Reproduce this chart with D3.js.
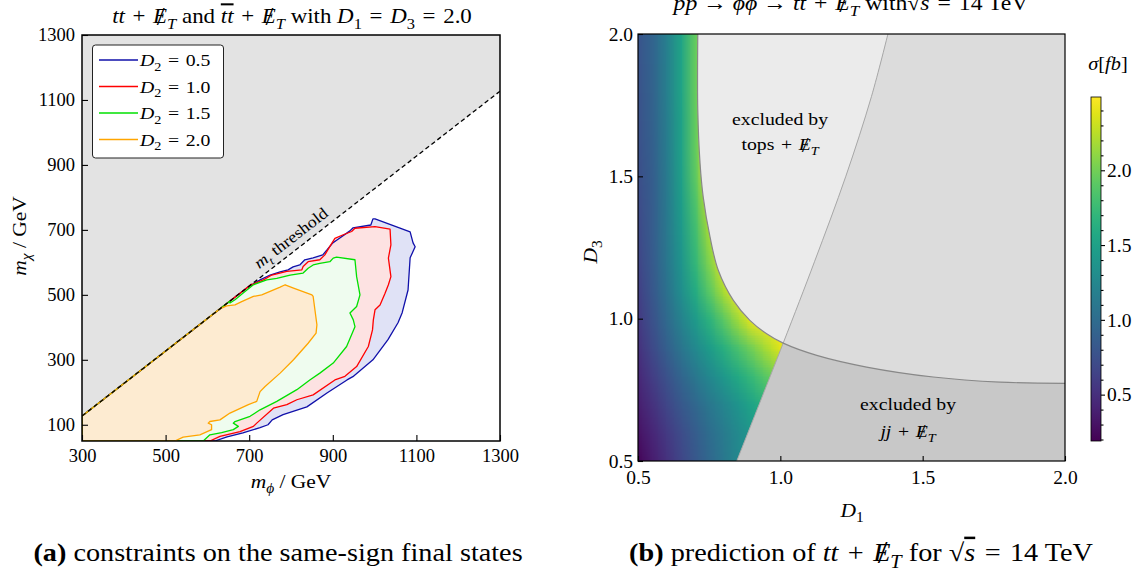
<!DOCTYPE html>
<html><head><meta charset="utf-8">
<script src="https://cdn.jsdelivr.net/npm/d3@7"></script>
<style>
body{margin:0;background:#fff;}
svg{display:block;font-family:"Liberation Serif","DejaVu Serif",serif;}
</style></head><body>
<svg id="fig" width="1135" height="578"></svg>
<script>
// ---------------- panel (a): same-sign constraints ----------------
const massTicksX = [300, 500, 700, 900, 1100, 1300];
const massTicksY = [100, 300, 500, 700, 900, 1100, 1300];
const topMass = 173;                       // kinematic threshold m_chi = m_phi - m_t
const d2Labels = ["0.5", "1.0", "1.5", "2.0"];
const d2Lines = ["#1010aa", "#ff0000", "#00e000", "#ffa500"];
const d2Fills = ["#e0e2f6", "#fde2e2", "#effcef", "#fdebd1"];

// exclusion contours (m_phi, m_chi) in GeV, from the lower edge round to the threshold
const contourD2_05 = [[618,50],[647,63],[685,75],[726,91],[745,100],[755,115],[781,131],[838,155],[886,198],[934,238],[948,248],[996,300],[1032,362],[1056,414],[1066,445],[1080,515],[1085,614],[1097,648],[1092,660],[1085,694],[1001,734],[996,734],[991,715],[948,706],[941,697],[910,669],[900,660],[886,638],[876,623],[853,614],[833,608],[821,592],[805,586],[793,577],[774,571],[750,561],[726,546],[702,528]];
const contourD2_10 = [[606,50],[630,64],[678,79],[710,95],[718,105],[758,151],[790,162],[814,177],[853,192],[905,238],[929,249],[957,279],[985,341],[995,392],[997,423],[1001,454],[1013,469],[1025,505],[1033,531],[1039,556],[1033,613],[1039,654],[1037,702],[1001,710],[953,705],[945,695],[925,685],[905,674],[893,649],[881,623],[869,608],[841,602],[829,587],[826,577],[790,572],[754,561],[734,546],[706,531]];
const contourD2_15 = [[590,50],[606,69],[634,76],[662,85],[674,95],[662,105],[666,110],[702,126],[726,146],[766,172],[814,208],[845,238],[869,259],[901,290],[933,341],[953,402],[949,423],[941,444],[957,464],[965,500],[957,556],[953,608],[909,616],[901,613],[893,602],[869,597],[853,592],[841,582],[829,567],[798,561],[766,551],[742,546],[710,531],[690,510],[666,485],[654,475]];
const contourD2_20 = [[522,50],[542,62],[582,69],[610,85],[610,100],[602,105],[606,110],[630,115],[654,136],[698,162],[718,172],[726,202],[738,218],[774,259],[806,300],[841,351],[860,382],[862,408],[853,495],[850,500],[806,521],[786,531],[774,524],[730,500],[710,495],[682,479],[666,469],[646,466],[634,459]];
const d2Contours = [contourD2_05, contourD2_10, contourD2_15, contourD2_20];

// ---------------- panel (b): tt + MET prediction ----------------
const couplingTicks = [0.5, 1.0, 1.5, 2.0];
const gridD1 = [0.5,0.55,0.6,0.65,0.7,0.75,0.8,0.85,0.9,0.95,1.0,1.05,1.1];
const gridD3 = [0.5,0.6,0.7,0.8,0.9,1.0,1.1,1.2,1.3,1.4,1.5,1.6,1.7,1.8,1.9,2.0];
// sigma [fb]; one row per D3 value (ascending), one column per D1 value
const sigmaGrid = [
  [0.22,0.37,0.52,0.67,0.81,0.96,1.11,1.26,1.41,1.56,1.70,1.85,2.00],
  [0.30,0.44,0.58,0.72,0.86,1.00,1.14,1.28,1.42,1.56,1.70,1.84,1.98],
  [0.38,0.52,0.67,0.81,0.95,1.10,1.24,1.38,1.53,1.67,1.81,1.96,2.10],
  [0.45,0.61,0.77,0.93,1.10,1.26,1.42,1.58,1.74,1.90,2.06,2.22,2.39],
  [0.52,0.71,0.89,1.08,1.27,1.45,1.64,1.83,2.01,2.20,2.39,2.48,2.48],
  [0.58,0.77,0.98,1.20,1.43,1.67,1.91,2.16,2.41,2.48,2.48,2.48,2.48],
  [0.63,0.81,1.05,1.32,1.60,1.90,2.20,2.48,2.48,2.48,2.48,2.48,2.48],
  [0.67,0.84,1.09,1.38,1.71,2.05,2.42,2.48,2.48,2.48,2.48,2.48,2.48],
  [0.70,0.86,1.11,1.42,1.78,2.17,2.48,2.48,2.48,2.48,2.48,2.48,2.48],
  [0.72,0.86,1.12,1.45,1.84,2.29,2.48,2.48,2.48,2.48,2.48,2.48,2.48],
  [0.74,0.87,1.13,1.48,1.91,2.41,2.48,2.48,2.48,2.48,2.48,2.48,2.48],
  [0.76,0.89,1.15,1.50,1.94,2.44,2.48,2.48,2.48,2.48,2.48,2.48,2.48],
  [0.77,0.90,1.16,1.51,1.94,2.45,2.48,2.48,2.48,2.48,2.48,2.48,2.48],
  [0.78,0.91,1.17,1.52,1.95,2.46,2.48,2.48,2.48,2.48,2.48,2.48,2.48],
  [0.79,0.92,1.17,1.52,1.95,2.44,2.48,2.48,2.48,2.48,2.48,2.48,2.48],
  [0.80,0.92,1.18,1.52,1.94,2.43,2.48,2.48,2.48,2.48,2.48,2.48,2.48]
];
const sigmaRange = [0.19, 2.49];
const sigmaTicks = [0.5, 1.0, 1.5, 2.0];
// exclusion boundaries in the (D1, D3) plane
const topsBoundary = [[0.71,2.0],[0.71,1.733],[0.718,1.545],[0.729,1.428],[0.753,1.287],[0.782,1.17],[0.835,1.064],[0.893,0.994],[0.952,0.947],[1.01,0.914],[1.128,0.871],[1.303,0.83],[1.537,0.795],[1.772,0.777],[2.0,0.773]];
const jjBoundary = [[0.847,0.5],[1.01,0.914],[1.12,1.2],[1.23,1.5],[1.32,1.78],[1.378,2.0]];

// ---------------- helpers ----------------
const svg = d3.select("#fig");
const EQ = "\u2004=\u2004", PLUS = "\u2004+\u2004";

// text made of styled runs: i = italic, b = bold, sub = subscript, ol = overline, slash = struck through previous glyph
function rich(parent, x, y, parts, size, anchor = "start", stretch = 1.13) {
  const g = parent.append("g").attr("transform", `translate(${x},${y}) scale(${stretch},1)`);
  const t = g.append("text").attr("x", 0).attr("y", 0)
    .attr("font-size", size).attr("text-anchor", anchor).attr("fill", "#000");
  let shift = 0, pendingDx = 0;
  for (const [s, flags = ""] of parts) {
    const f = flags.split(" ");
    const sp = t.append("tspan").text(s);
    const target = f.includes("sub") ? 0.28 * size : (f.includes("slash") ? 0.09 * size : 0);
    const dy = target - shift; shift = target;
    if (dy) sp.attr("dy", dy);
    let dx = pendingDx; pendingDx = 0;
    if (f.includes("slash")) { dx += -0.45 * size; pendingDx = 0.1 * size; sp.attr("font-size", size * 1.25).attr("font-weight", 300); }
    if (dx) sp.attr("dx", dx);
    if (f.includes("sub")) sp.attr("font-size", size * 0.72);
    if (f.includes("i")) sp.attr("font-style", "italic");
    if (f.includes("b")) sp.attr("font-weight", "bold");
    if (f.includes("ol")) sp.attr("text-decoration", "overline");
  }
  return t;
}
const MET = [["E", "i"], ["/", "slash"], ["T", "i sub"]];

function styleAxis(size) {
  return g => {
    g.attr("font-family", null).attr("font-size", null);
    g.select(".domain").remove();
    g.selectAll(".tick line").attr("stroke", "#000").attr("stroke-width", 1.1);
    g.selectAll(".tick text").attr("font-size", size).attr("fill", "#000");
  };
}

// ================= panel (a) =================
const A = {x0: 82, x1: 500, y0: 35, y1: 441};
const xa = d3.scaleLinear().domain([300, 1300]).range([A.x0, A.x1]);
const ya = d3.scaleLinear().domain([50, 1300]).range([A.y1, A.y0]);
const thr = m => m - topMass;
const ga = svg.append("g");
const defs = svg.append("defs");
defs.append("clipPath").attr("id", "clipA").append("rect")
  .attr("x", A.x0).attr("y", A.y0).attr("width", A.x1 - A.x0).attr("height", A.y1 - A.y0);
const plotA = ga.append("g").attr("clip-path", "url(#clipA)");
const lineA = d3.line().x(d => xa(d[0])).y(d => ya(d[1]));

// kinematically forbidden region above the threshold
plotA.append("path")
  .attr("d", lineA([[300, thr(300)], [1300, thr(1300)], [1300, 1300], [300, 1300]]) + "Z")
  .attr("fill", "#e3e3e3");

function closeRegion(pts) {
  const last = pts[pts.length - 1];
  return [...pts, [last[0], thr(last[0])], [300, thr(300)], [300, 50]];
}
d2Contours.forEach((c, i) => {
  plotA.append("path").attr("d", lineA(closeRegion(c)) + "Z").attr("fill", d2Fills[i]);
});
d2Contours.forEach((c, i) => {
  plotA.append("path").attr("d", lineA(closeRegion(c)) + "Z").attr("fill", "none")
    .attr("stroke", d2Lines[i]).attr("stroke-width", 1.3).attr("stroke-linejoin", "round");
});
plotA.append("path").attr("d", lineA([[300, thr(300)], [1300, thr(1300)]]))
  .attr("stroke", "#000").attr("stroke-width", 1.3).attr("stroke-dasharray", "4.5,3").attr("fill", "none");

// threshold label, aligned with the dashed line
{
  const ang = Math.atan2(ya(thr(1300)) - ya(thr(300)), xa(1300) - xa(300)) * 180 / Math.PI;
  const m0 = 818;
  const g = ga.append("g").attr("transform", `translate(${xa(m0)},${ya(thr(m0))}) rotate(${ang})`);
  rich(g, 0, -7, [["m", "i"], ["t", "i sub"], [" threshold"]], 16, "middle");
}

// frame + axes
ga.append("rect").attr("x", A.x0).attr("y", A.y0).attr("width", A.x1 - A.x0).attr("height", A.y1 - A.y0)
  .attr("fill", "none").attr("stroke", "#000").attr("stroke-width", 1.5);
ga.append("g").attr("transform", `translate(0,${A.y1})`)
  .call(d3.axisBottom(xa).tickValues(massTicksX).tickSize(-6).tickPadding(8).tickFormat(d3.format("d")))
  .call(styleAxis(18.5));
ga.append("g").attr("transform", `translate(${A.x0},0)`)
  .call(d3.axisLeft(ya).tickValues(massTicksY).tickSize(-6).tickPadding(7).tickFormat(d3.format("d")))
  .call(styleAxis(18.5));

// legend
{
  const lg = ga.append("g");
  lg.append("rect").attr("x", 92.5).attr("y", 45).attr("width", 131).attr("height", 113).attr("rx", 3)
    .attr("fill", "#fff").attr("stroke", "#222").attr("stroke-width", 1);
  d2Labels.forEach((lab, i) => {
    const y = 60 + i * 26.5;
    lg.append("line").attr("x1", 99).attr("x2", 138).attr("y1", y).attr("y2", y)
      .attr("stroke", d2Lines[i]).attr("stroke-width", 1.5);
    rich(lg, 140, y + 6, [["D", "i"], ["2", "sub"], [EQ + lab]], 17.5);
  });
}

rich(ga, 292, 23, [["tt", "i"], [PLUS], ...MET, [" and "], ["tt", "i ol"], [PLUS], ...MET,
  [" with "], ["D", "i"], ["1", "sub"], [EQ], ["D", "i"], ["3", "sub"], [EQ + "2.0"]], 20.3, "middle");
rich(ga, 291, 488, [["m", "i"], ["ϕ", "i sub"], [" / GeV"]], 19, "middle");
{
  const g = ga.append("g").attr("transform", "translate(26,236) rotate(-90)");
  rich(g, 0, 0, [["m", "i"], ["χ", "i sub"], [" / GeV"]], 19, "middle");
}
rich(ga, 278, 561, [["(a)", "b"], [" constraints on the same-sign final states"]], 25, "middle");

// ================= panel (b) =================
const B = {x0: 638, x1: 1065, y0: 34, y1: 461};
const xb = d3.scaleLinear().domain([0.5, 2.0]).range([B.x0, B.x1]);
const yb = d3.scaleLinear().domain([0.5, 2.0]).range([B.y1, B.y0]);
const color = d3.scaleSequential(d3.interpolateViridis).domain(sigmaRange);
const gb = svg.append("g");
defs.append("clipPath").attr("id", "clipB").append("rect")
  .attr("x", B.x0).attr("y", B.y0).attr("width", B.x1 - B.x0).attr("height", B.y1 - B.y0);
const plotB = gb.append("g").attr("clip-path", "url(#clipB)");
const curveB = d3.line().x(d => xb(d[0])).y(d => yb(d[1])).curve(d3.curveCatmullRom.alpha(0.5));

// cross-section map: one texel per grid node, smoothed when scaled to the axes
{
  const nx = gridD1.length, ny = gridD3.length;
  const cnv = document.createElement("canvas");
  cnv.width = nx; cnv.height = ny;
  const ctx = cnv.getContext("2d");
  const img = ctx.createImageData(nx, ny);
  sigmaGrid.forEach((row, j) => row.forEach((v, i) => {
    const c = d3.rgb(color(v));
    const k = ((ny - 1 - j) * nx + i) * 4;
    img.data[k] = c.r; img.data[k + 1] = c.g; img.data[k + 2] = c.b; img.data[k + 3] = 255;
  }));
  ctx.putImageData(img, 0, 0);
  const h1 = (gridD1[1] - gridD1[0]) / 2, h3 = (gridD3[1] - gridD3[0]) / 2;
  const xL = xb(gridD1[0] - h1), xR = xb(gridD1[nx - 1] + h1);
  const yT = yb(gridD3[ny - 1] + h3), yB = yb(gridD3[0] - h3);
  plotB.append("image").attr("href", cnv.toDataURL())
    .attr("x", xL).attr("y", yT).attr("width", xR - xL).attr("height", yB - yT)
    .attr("preserveAspectRatio", "none").style("image-rendering", "auto");
}

// excluded regions
const topsPath = curveB(topsBoundary) + `L${xb(2.0)},${yb(2.0)}Z`;
const jjPath = curveB(jjBoundary) + `L${xb(2.0)},${yb(2.0)}L${xb(2.0)},${yb(0.5)}Z`;
defs.append("clipPath").attr("id", "clipJJ").append("path").attr("d", jjPath);
plotB.append("path").attr("d", topsPath).attr("fill", "#ebebeb");
plotB.append("path").attr("d", jjPath).attr("fill", "#c8c8c8");
plotB.append("path").attr("d", topsPath).attr("fill", "#dcdcdc").attr("clip-path", "url(#clipJJ)");
plotB.append("path").attr("d", curveB(jjBoundary)).attr("fill", "none").attr("stroke", "#a8a8a8").attr("stroke-width", 1);
plotB.append("path").attr("d", curveB(topsBoundary)).attr("fill", "none").attr("stroke", "#888").attr("stroke-width", 1.2);

rich(gb, 780, 125, [["excluded by"]], 17.5, "middle");
rich(gb, 780, 150, [["tops" + PLUS], ...MET], 17.5, "middle");
rich(gb, 908, 410, [["excluded by"]], 17.5, "middle");
rich(gb, 908, 437, [["jj", "i"], [PLUS], ...MET], 17.5, "middle");

gb.append("rect").attr("x", B.x0).attr("y", B.y0).attr("width", B.x1 - B.x0).attr("height", B.y1 - B.y0)
  .attr("fill", "none").attr("stroke", "#000").attr("stroke-width", 1.2);
gb.append("g").attr("transform", `translate(0,${B.y1})`)
  .call(d3.axisBottom(xb).tickValues(couplingTicks).tickSize(-5).tickPadding(9).tickFormat(d3.format(".1f")))
  .call(styleAxis(19.5));
gb.append("g").attr("transform", `translate(${B.x0},0)`)
  .call(d3.axisLeft(yb).tickValues(couplingTicks).tickSize(-5).tickPadding(5).tickFormat(d3.format(".1f")))
  .call(styleAxis(19.5));

// colour bar
{
  const CB = {x0: 1091, x1: 1101, y0: 97, y1: 441};
  const yc = d3.scaleLinear().domain(sigmaRange).range([CB.y1, CB.y0]);
  const grad = defs.append("linearGradient").attr("id", "cbGrad").attr("x1", 0).attr("y1", 1).attr("x2", 0).attr("y2", 0);
  d3.range(0, 1.0001, 0.05).forEach(t => {
    grad.append("stop").attr("offset", t).attr("stop-color", color(sigmaRange[0] + t * (sigmaRange[1] - sigmaRange[0])));
  });
  gb.append("rect").attr("x", CB.x0).attr("y", CB.y0).attr("width", CB.x1 - CB.x0).attr("height", CB.y1 - CB.y0)
    .attr("fill", "url(#cbGrad)").attr("stroke", "#000").attr("stroke-width", 0.8);
  const minor = d3.range(0.2, 2.45, 0.1).filter(v => sigmaTicks.every(t => Math.abs(t - v) > 1e-6));
  gb.append("g").attr("transform", `translate(${CB.x1},0)`)
    .call(d3.axisRight(yc).tickValues(minor).tickSize(2.5).tickFormat(""))
    .call(styleAxis(19.5));
  gb.append("g").attr("transform", `translate(${CB.x1},0)`)
    .call(d3.axisRight(yc).tickValues(sigmaTicks).tickSize(4).tickPadding(2).tickFormat(d3.format(".1f")))
    .call(styleAxis(19.5));
  rich(gb, 1108, 70, [["σ", "i"], ["["], ["fb", "i"], ["]"]], 18, "middle");
}

rich(gb, 851, 10, [["pp", "i"], [" → "], ["ϕϕ", "i"], [" → "], ["tt", "i"], [PLUS], ...MET,
  [" with"], ["√"], ["s", "i ol"], [EQ + "14 TeV"]], 21, "middle");
rich(gb, 852, 517, [["D", "i"], ["1", "sub"]], 19, "middle");
{
  const g = gb.append("g").attr("transform", "translate(597,252) rotate(-90)");
  rich(g, 0, 0, [["D", "i"], ["3", "sub"]], 19, "middle");
}
rich(gb, 861, 561, [["(b)", "b"], [" prediction of "], ["tt", "i"], [PLUS], ...MET, [" for "],
  ["√"], ["s", "i ol"], [EQ + "14 TeV"]], 25, "middle");
</script>
</body></html>
